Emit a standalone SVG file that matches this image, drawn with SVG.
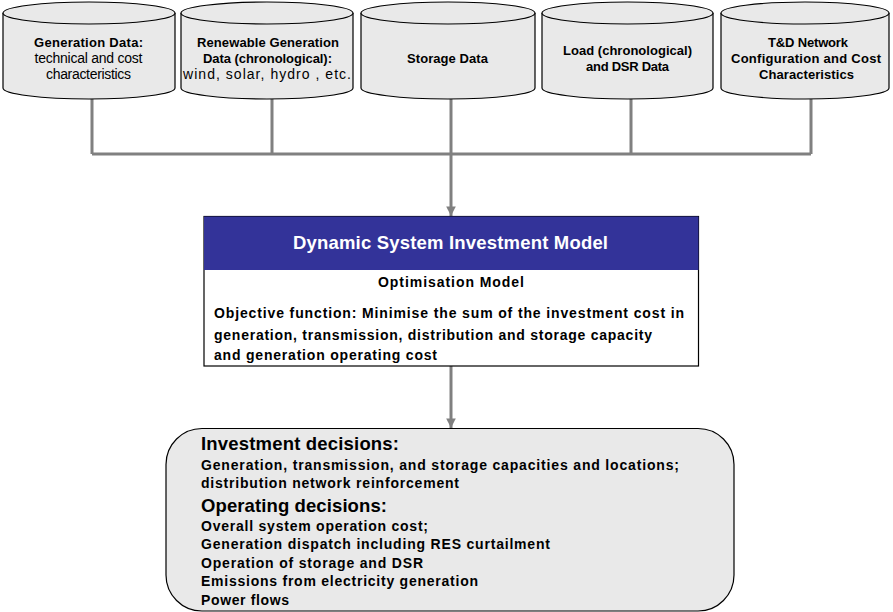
<svg xmlns="http://www.w3.org/2000/svg" width="893" height="612" viewBox="0 0 893 612">
<defs>
<style>
.cyl{fill:#e9e9e9;stroke:#000;stroke-width:1.2}
.t{font-family:"Liberation Sans",Arial,sans-serif;font-size:13px;fill:#000;text-anchor:middle}
.n{font-size:14px}
.b{font-weight:bold}
.c{fill:none;stroke:#808080;stroke-width:3}
.m{font-family:"Liberation Sans",Arial,sans-serif;font-weight:bold;fill:#000}
</style>
<marker id="ah" viewBox="0 0 10 10" refX="10" refY="5" markerWidth="3.2" markerHeight="3.2" orient="auto" markerUnits="strokeWidth">
<path d="M0,0 L10,5 L0,10 z" fill="#808080"/>
</marker>
</defs>
<rect width="893" height="612" fill="#fff"/>

<g id="connectors">
<path class="c" d="M92,99 V154 M272,99 V154 M631,99 V154 M811,99 V154 M92,154 H811"/>
<path class="c" d="M451,99 V216" marker-end="url(#ah)"/>
<path class="c" d="M451,366 V428" marker-end="url(#ah)"/>
</g>

<g id="gen-data">
<path class="cyl" d="M3,13 V88 A86,11 0 0 0 175,88 V13 A86,11 0 0 0 3,13 Z"/>
<path class="cyl" d="M3,13 A86,11 0 0 0 175,13" fill="none"/>
<text class="t b" x="88.5" y="47" textLength="109" lengthAdjust="spacing">Generation Data:</text>
<text class="t n" x="88.5" y="63" textLength="108" lengthAdjust="spacing">technical and cost</text>
<text class="t n" x="88.5" y="79" textLength="85" lengthAdjust="spacing">characteristics</text>
</g>

<g id="renewable-data">
<path class="cyl" d="M181,13 V88 A86,11 0 0 0 353,88 V13 A86,11 0 0 0 181,13 Z"/>
<path class="cyl" d="M181,13 A86,11 0 0 0 353,13" fill="none"/>
<text class="t b" x="268" y="47" textLength="142" lengthAdjust="spacing">Renewable Generation</text>
<text class="t b" x="267.5" y="63" textLength="129" lengthAdjust="spacing">Data (chronological):</text>
<text class="t n" x="267" y="79" textLength="168" lengthAdjust="spacing">wind, solar, hydro , etc.</text>
</g>

<g id="storage-data">
<path class="cyl" d="M361,13 V88 A87,11 0 0 0 535,88 V13 A87,11 0 0 0 361,13 Z"/>
<path class="cyl" d="M361,13 A87,11 0 0 0 535,13" fill="none"/>
<text class="t b" x="447.5" y="63" textLength="81" lengthAdjust="spacing">Storage Data</text>
</g>

<g id="load-data">
<path class="cyl" d="M542,13 V88 A85.5,11 0 0 0 713,88 V13 A85.5,11 0 0 0 542,13 Z"/>
<path class="cyl" d="M542,13 A85.5,11 0 0 0 713,13" fill="none"/>
<text class="t b" x="627.5" y="55" textLength="129" lengthAdjust="spacing">Load (chronological)</text>
<text class="t b" x="627.5" y="71" textLength="83" lengthAdjust="spacing">and DSR Data</text>
</g>

<g id="td-data">
<path class="cyl" d="M721,13 V88 A84,11 0 0 0 889,88 V13 A84,11 0 0 0 721,13 Z"/>
<path class="cyl" d="M721,13 A84,11 0 0 0 889,13" fill="none"/>
<text class="t b" x="808" y="47" textLength="80" lengthAdjust="spacing">T&amp;D Network</text>
<text class="t b" x="806" y="63" textLength="150" lengthAdjust="spacing">Configuration and Cost</text>
<text class="t b" x="806.5" y="79" textLength="95" lengthAdjust="spacing">Characteristics</text>
</g>

<g id="investment-model">
<rect x="204" y="216.5" width="494.5" height="149.5" fill="#fff" stroke="#000" stroke-width="1.2"/>
<rect x="204" y="216.5" width="494.5" height="53.5" fill="#333399"/>
<text class="m" x="450.5" y="249" font-size="18.5" style="fill:#fff" text-anchor="middle" textLength="315" lengthAdjust="spacing">Dynamic System Investment Model</text>
<text class="m" x="451" y="287" font-size="14" text-anchor="middle" textLength="146" lengthAdjust="spacing">Optimisation Model</text>
<text class="m" x="214" y="318" font-size="14" textLength="470" lengthAdjust="spacing">Objective function: Minimise the sum of the investment cost in</text>
<text class="m" x="214" y="340" font-size="14" textLength="438" lengthAdjust="spacing">generation, transmission, distribution and storage capacity</text>
<text class="m" x="214" y="360" font-size="14" textLength="223" lengthAdjust="spacing">and generation operating cost</text>
</g>

<g id="decisions">
<rect x="166" y="428.5" width="568" height="182.5" rx="36" ry="36" fill="#e9e9e9" stroke="#000" stroke-width="1.2"/>
<text class="m" x="201" y="450" font-size="18.5" textLength="198" lengthAdjust="spacing">Investment decisions:</text>
<text class="m" x="201" y="470" font-size="14" textLength="478" lengthAdjust="spacing">Generation, transmission, and storage capacities and locations;</text>
<text class="m" x="201" y="488" font-size="14" textLength="258" lengthAdjust="spacing">distribution network reinforcement</text>
<text class="m" x="201" y="512" font-size="18.5" textLength="186" lengthAdjust="spacing">Operating decisions:</text>
<text class="m" x="201" y="531" font-size="14" textLength="227" lengthAdjust="spacing">Overall system operation cost;</text>
<text class="m" x="201" y="549" font-size="14" textLength="349" lengthAdjust="spacing">Generation dispatch including RES curtailment</text>
<text class="m" x="201" y="568" font-size="14" textLength="222" lengthAdjust="spacing">Operation of storage and DSR</text>
<text class="m" x="201" y="586" font-size="14" textLength="277" lengthAdjust="spacing">Emissions from electricity generation</text>
<text class="m" x="201" y="605" font-size="14" textLength="88" lengthAdjust="spacing">Power flows</text>
</g>
</svg>
